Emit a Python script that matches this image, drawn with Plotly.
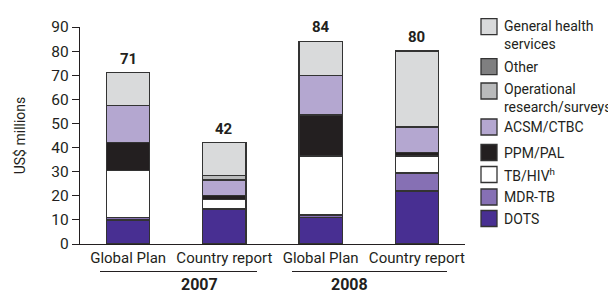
import plotly.graph_objects as go

# ---- data ----
categories = ["Global Plan", "Country report", "Global Plan", "Country report"]
years = ["2007", "2008"]
totals = [71, 42, 84, 80]

dots = [10, 14.5, 11, 22]
mdr_tb = [1, 0, 1, 7.5]
tb_hiv = [19.5, 4, 24.5, 7]
ppm_pal = [11.5, 1.5, 17, 1.5]
acsm_ctbc = [15.5, 6.5, 16.5, 10.5]
op_research = [0, 2, 0, 0]
other = [0, 0, 0, 0]
general_health = [13.5, 13.5, 14, 31.5]

series = [
    ("DOTS", dots, "#482f92"),
    ("MDR-TB", mdr_tb, "#8670b4"),
    ("TB/HIV<sup>h</sup>", tb_hiv, "#ffffff"),
    ("PPM/PAL", ppm_pal, "#231f20"),
    ("ACSM/CTBC", acsm_ctbc, "#b4a7d0"),
    ("Operational<br>research/surveys", op_research, "#b9babb"),
    ("Other", other, "#7f7f80"),
    ("General health<br>services", general_health, "#d9dadb"),
]

FONT = "Roboto, Arial, sans-serif"
TXT = "#231f20"

# page has an 8px body margin: figure occupies page pixels 8..616 x 8..293
OFF = 8
W, H = 616 - OFF, 293 - OFF
L, R, T, B = 80, 465, 27, 244  # plot area in page pixels


def px(x):
    return (x - L) / (R - L)


def py(y):
    return (B - y) / (B - T)


xs = list(range(len(categories)))
fig = go.Figure()
for name, vals, col in series:
    fig.add_trace(go.Bar(
        x=xs, y=vals, name=name, width=0.45,
        marker=dict(color=col, line=dict(color="#333333", width=1.3)),
        showlegend=False, hoverinfo="y+name",
    ))

annotations = []
for i, t in enumerate(totals):
    annotations.append(dict(x=i, y=sum(s[1][i] for s in series), xref="x", yref="y",
                            text=f"<b>{t}</b>", showarrow=False, yanchor="bottom", yshift=3,
                            font=dict(family=FONT, size=15, color=TXT)))

shapes = []
# year group labels and underlines
groups = [(100, 257, years[0]), (292, 447, years[1])]
for x0, x1, yr in groups:
    shapes.append(dict(type="line", xref="paper", yref="paper", x0=px(x0), x1=px(x1),
                       y0=py(271.5), y1=py(271.5), line=dict(color=TXT, width=1)))
    annotations.append(dict(x=px((x0 + x1) / 2), y=py(284.5), xref="paper", yref="paper",
                            text=f"<b>{yr}</b>", showarrow=False, yanchor="middle",
                            font=dict(family=FONT, size=16, color=TXT)))

# manual legend (top to bottom): label, colour, box centre y, text centre y (page px)
legend_rows = [
    ("General health<br>services", "#d9dadb", 26.7, 34.5),
    ("Other", "#7f7f80", 66.7, 66.7),
    ("Operational<br>research/surveys", "#b9babb", 91, 97.5),
    ("ACSM/CTBC", "#b4a7d0", 127, 127),
    ("PPM/PAL", "#231f20", 152.5, 152.5),
    ("TB/HIV<sup>h</sup>", "#ffffff", 174.5, 174.5),
    ("MDR-TB", "#8670b4", 197, 197),
    ("DOTS", "#482f92", 218.5, 218.5),
]
for label, col, yc, ytxt in legend_rows:
    shapes.append(dict(type="rect", xref="paper", yref="paper",
                       x0=px(481), x1=px(497), y0=py(yc + 8), y1=py(yc - 8),
                       fillcolor=col, line=dict(color="#333333", width=1.3)))
    annotations.append(dict(x=px(502), y=py(ytxt), xref="paper", yref="paper",
                            text=label, showarrow=False, xanchor="left", yanchor="middle",
                            align="left", font=dict(family=FONT, size=14, color=TXT)))

fig.update_layout(
    width=W, height=H,
    margin=dict(l=L - OFF, r=616 - R, t=T - OFF, b=293 - B, pad=0),
    paper_bgcolor="white", plot_bgcolor="white",
    barmode="stack", bargap=0.55,
    font=dict(family=FONT, size=15, color=TXT),
    xaxis=dict(range=[-0.5, 3.5], tickvals=xs, ticktext=categories, showgrid=False,
               showline=True, linecolor=TXT, linewidth=1.3, ticks="", zeroline=False,
               tickangle=0, automargin=False,
               tickfont=dict(family=FONT, size=15, color=TXT), fixedrange=True),
    yaxis=dict(range=[0, 90], tickvals=list(range(0, 91, 10)), showgrid=False,
               showline=True, linecolor=TXT, linewidth=1.3, ticks="outside", ticklen=7,
               tickcolor=TXT, zeroline=False, automargin=False,
               title=dict(text="US$ millions", standoff=22,
                          font=dict(family=FONT, size=14, color=TXT)),
               tickfont=dict(family=FONT, size=15.5, color=TXT), fixedrange=True),
    annotations=annotations, shapes=shapes,
)
fig.write_html("out.html")
